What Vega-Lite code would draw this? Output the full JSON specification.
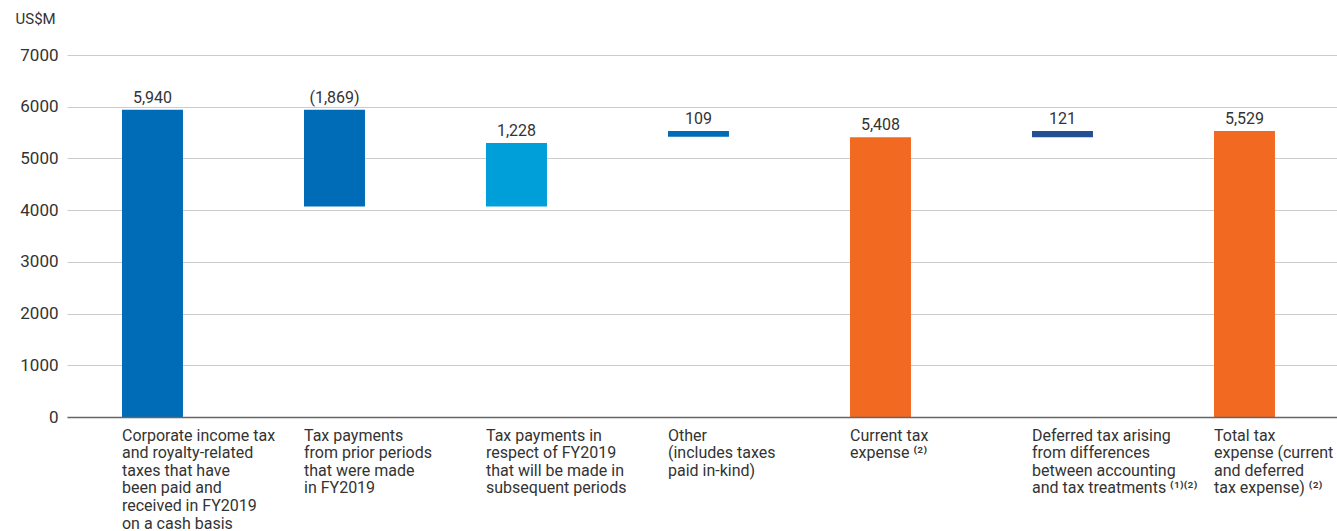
{
  "$schema": "https://vega.github.io/schema/vega-lite/v6.json",
  "width": 1270,
  "height": 362,
  "autosize": {"type": "none"},
  "padding": {"left": 67, "top": 55, "right": 0, "bottom": 114},
  "background": "white",
  "config": {"font": "Roboto", "view": {"stroke": null}},
  "data": {
    "values": [
      {"cat": "Corporate income tax|and royalty-related|taxes that have|been paid and|received in FY2019|on a cash basis", "low": 0, "high": 5940, "label": "5,940", "kind": "paid"},
      {"cat": "Tax payments|from prior periods|that were made|in FY2019", "low": 4071, "high": 5940, "label": "(1,869)", "kind": "paid"},
      {"cat": "Tax payments in|respect of FY2019|that will be made in|subsequent periods", "low": 4071, "high": 5299, "label": "1,228", "kind": "future"},
      {"cat": "Other|(includes taxes|paid in-kind)", "low": 5420, "high": 5529, "label": "109", "kind": "paid"},
      {"cat": "Current tax|expense ⁽²⁾", "low": 0, "high": 5408, "label": "5,408", "kind": "expense"},
      {"cat": "Deferred tax arising|from differences|between accounting|and tax treatments ⁽¹⁾⁽²⁾", "low": 5408, "high": 5529, "label": "121", "kind": "deferred"},
      {"cat": "Total tax|expense (current|and deferred|tax expense) ⁽²⁾", "low": 0, "high": 5529, "label": "5,529", "kind": "expense"}
    ]
  },
  "encoding": {
    "x": {
      "field": "cat",
      "type": "nominal",
      "sort": null,
      "scale": {"paddingInner": 0.665, "paddingOuter": 0.3215, "align": 0.47},
      "axis": {
        "title": null,
        "labelAngle": 0,
        "labelAlign": "left",
        "labelBaseline": "top",
        "labelOffset": -30.5,
        "labelPadding": 10,
        "labelFontSize": 16,
        "labelLineHeight": 17.6,
        "labelLimit": 300,
        "labelOverlap": false,
        "labelBound": false,
        "labelColor": "#333333",
        "labelExpr": "split(datum.label, '|')",
        "ticks": false,
        "domainColor": "#666666",
        "domainWidth": 1.5,
        "zindex": 1
      }
    }
  },
  "layer": [
    {
      "mark": {"type": "bar"},
      "encoding": {
        "y": {
          "field": "low",
          "type": "quantitative",
          "scale": {"domain": [0, 7000], "nice": false},
          "axis": {
            "values": [0, 1000, 2000, 3000, 4000, 5000, 6000, 7000],
            "format": "d",
            "labelFontSize": 17,
            "labelColor": "#333333",
            "labelPadding": 9,
            "domain": false,
            "ticks": false,
            "gridColor": "#cccccc",
            "gridWidth": 1,
            "title": "US$M",
            "titleAngle": 0,
            "titleX": -52,
            "titleY": -32,
            "titleAlign": "left",
            "titleBaseline": "alphabetic",
            "titleFontWeight": "normal",
            "titleFontSize": 15,
            "titleColor": "#333333"
          }
        },
        "y2": {"field": "high"},
        "color": {
          "field": "kind",
          "type": "nominal",
          "scale": {"domain": ["paid", "future", "expense", "deferred"], "range": ["#006bb6", "#009fda", "#f26a22", "#234f93"]},
          "legend": null
        }
      }
    },
    {
      "mark": {"type": "text", "dy": -7, "baseline": "alphabetic", "fontSize": 16, "color": "#333333"},
      "encoding": {
        "y": {"field": "high", "type": "quantitative"},
        "text": {"field": "label"}
      }
    }
  ]
}
